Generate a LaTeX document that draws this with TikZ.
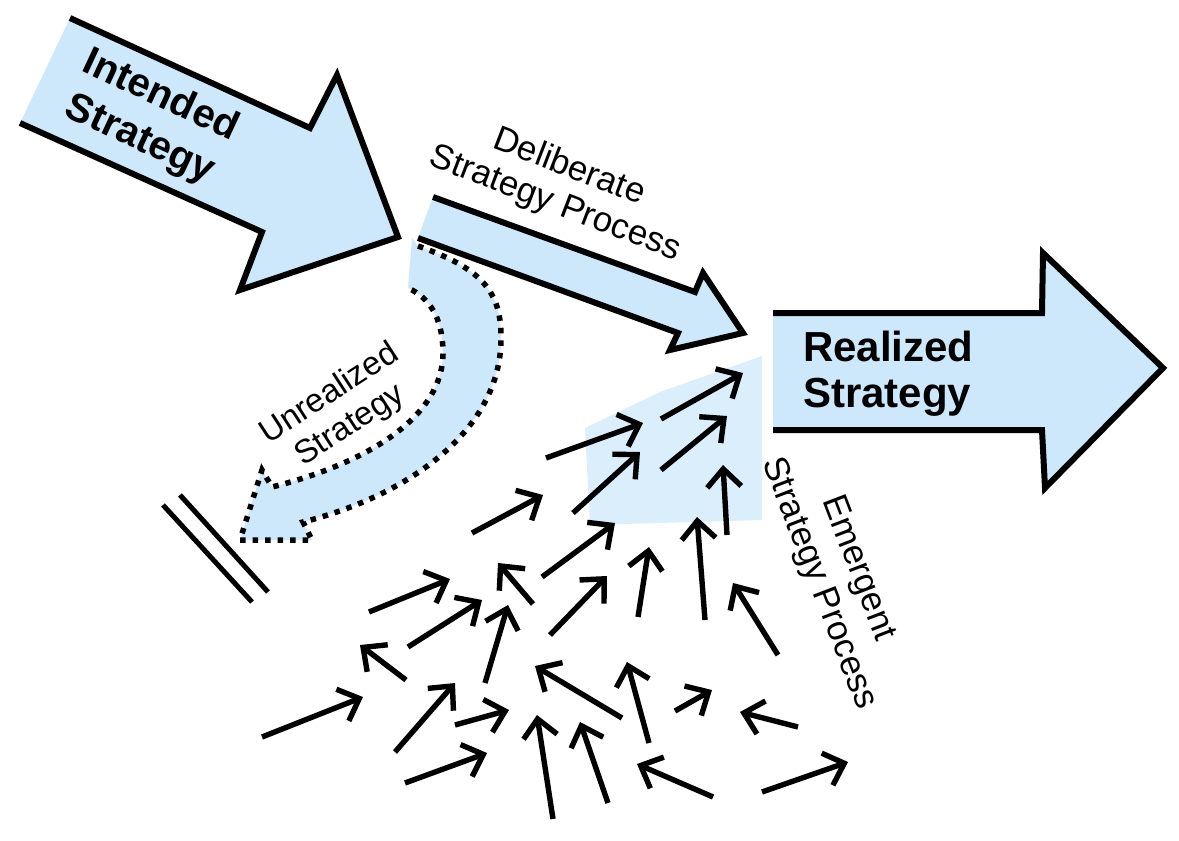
\documentclass[tikz,border=0pt]{standalone}
\usepackage{fontspec}
\setmainfont{Liberation Sans}
\usetikzlibrary{arrows.meta}
\definecolor{lb}{RGB}{205,232,250}
\begin{document}
\begin{tikzpicture}[x=1pt,y=-1pt,
  bigline/.style={line width=6pt, line join=miter},
  dotline/.style={line width=5.5pt, dash pattern=on 5.5pt off 7pt},
  sa/.style={line width=5.4pt, -{Straight Barb[length=18pt,width=34pt]}},
  lbl/.style={inner sep=0pt, align=center},
]
\useasboundingbox (0,0) rectangle (1179,841);
% soft blue patch behind emergent arrows
\fill[lb!75] (585,428) -- (660,392) -- (762,356) -- (762,520) -- (590,525) -- cycle;
% unrealized strategy (fill)
\fill[lb] (412,238) -- (418,246) .. controls (480,268) and (502,290) .. (501,340)
  .. controls (500,430) and (410,495) .. (303,522) -- (312,540) -- (240,540) -- (262,470) -- (272,487)
  .. controls (360,465) and (445,420) .. (443,350) .. controls (442,318) and (430,298) .. (408,288) -- cycle;
% deliberate arrow fill
\fill[lb] (433,197) -- (695,292) -- (703,273) -- (743,333) -- (670,350) -- (678,333) -- (418,238) -- cycle;
% unrealized outline
\draw[dotline] (418,246) .. controls (480,268) and (502,290) .. (501,340)
  .. controls (500,430) and (410,495) .. (303,522) -- (312,540) -- (240,540) -- (262,470) -- (272,487)
  .. controls (360,465) and (445,420) .. (443,350) .. controls (442,318) and (430,298) .. (408,288);
% deliberate outline
\draw[bigline] (433,197) -- (695,292) -- (703,273) -- (743,333) -- (670,350) -- (678,333) -- (418,238);
% intended arrow
\fill[lb] (70,18) -- (310,128) -- (337,75) -- (398,237) -- (240,290) -- (262,232) -- (20,123) -- cycle;
\draw[bigline] (70,18) -- (310,128) -- (337,75) -- (398,237) -- (240,290) -- (262,232) -- (20,123);
% realized arrow
\fill[lb] (773,313) -- (1042,313) -- (1043,253) -- (1163,368) -- (1045,488) -- (1042,430) -- (773,430) -- cycle;
\draw[bigline] (773,313) -- (1042,313) -- (1043,253) -- (1163,368) -- (1045,488) -- (1042,430) -- (773,430);
% equals sign
\draw[line width=5pt] (163,505) -- (252,602);
\draw[line width=5pt] (180,495) -- (268,592);
% labels
\node[lbl, rotate=-25, font=\fontsize{40}{48}\selectfont\bfseries] (intended) at (150,118) {Intended\\Strategy};
\node[lbl, rotate=-21, font=\fontsize{35}{39}\selectfont] (delib) at (562,186) {Deliberate\\Strategy Process};
\node[lbl, rotate=33, font=\fontsize{33}{38}\selectfont] (unreal) at (340,410) {Unrealized\\Strategy};
\node[lbl, rotate=-69, font=\fontsize{35}{42}\selectfont] (emerg) at (838,576) {Emergent\\Strategy Process};
\node[anchor=base west, inner sep=0pt, font=\fontsize{42}{46}\selectfont\bfseries] (real1) at (803,361) {Realized};
\node[anchor=base west, inner sep=0pt, font=\fontsize{42}{46}\selectfont\bfseries] (real2) at (803,407) {Strategy};
% emergent small arrows
\foreach \tx/\ty/\hx/\hy in {
  661/419/743/373, 661/470/727/416, 546/458/643/423, 573/513/640/452,
  727/535/723/465, 472/533/543/495, 542/577/615/523, 705/620/697/517,
  638/617/649/547, 369/612/450/579, 408/647/482/600, 533/604/498/563,
  550/635/607/576, 406/680/360/645, 485/683/508/605, 395/752/455/683,
  455/725/509/710, 405/783/487/753, 622/718/535/666, 553/819/537/715,
  608/803/580/722, 649/743/627/662, 262/737/363/697, 778/655/733/583,
  675/711/712/690, 798/727/740/712, 713/797/637/764, 762/792/848/762}
  \draw[sa] (\tx,\ty) -- (\hx,\hy);
\end{tikzpicture}
\end{document}
